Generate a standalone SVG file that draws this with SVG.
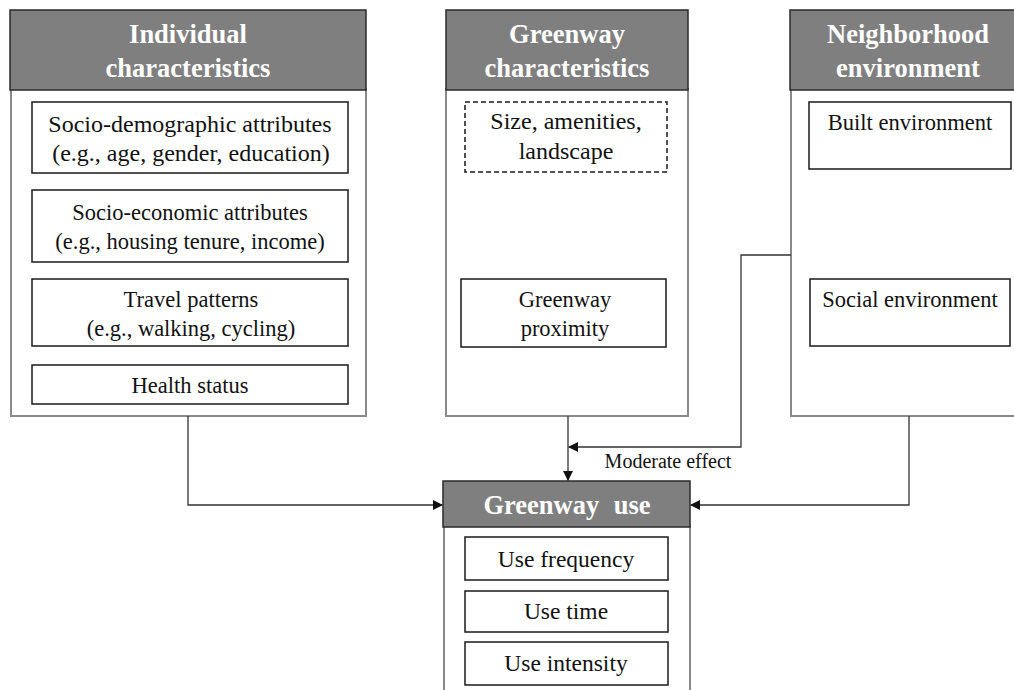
<svg xmlns="http://www.w3.org/2000/svg" width="1014" height="690" viewBox="0 0 1014 690">
<style>
.panel{fill:#fff;stroke:#8a8a8a;stroke-width:2}
.head{fill:#7f7f7f;stroke:#2a2a2a;stroke-width:1.5}
.ht{font-family:"Liberation Serif",serif;font-weight:bold;font-size:26.5px;fill:#fff;text-anchor:middle}
.box{fill:#fff;stroke:#1a1a1a;stroke-width:1.5}
.dash{fill:#fff;stroke:#1a1a1a;stroke-width:1.5;stroke-dasharray:5 3}
.t{font-family:"Liberation Serif",serif;font-size:22.5px;fill:#111;text-anchor:middle}
.tb{font-size:24px}
.ut{font-family:"Liberation Serif",serif;font-size:23.5px;fill:#111;text-anchor:middle}
.lbl{font-family:"Liberation Serif",serif;font-size:20px;fill:#111;text-anchor:middle}
.con{fill:none;stroke:#333;stroke-width:1.3}
</style>
<defs>
<marker id="arr" markerWidth="10" markerHeight="10" refX="9" refY="5" orient="auto" markerUnits="userSpaceOnUse">
<path d="M0,0 L10,5 L0,10 Z" fill="#111"/>
</marker>
</defs>

<g id="individual">
<rect class="panel" x="11" y="89" width="355" height="327"/>
<rect class="head" x="10" y="10" width="356" height="80"/>
<text class="ht" x="188" y="43">Individual</text>
<text class="ht" x="188" y="77">characteristics</text>
<rect class="box" x="32" y="102" width="316" height="71"/>
<text class="t tb" x="190" y="132">Socio-demographic attributes</text>
<text class="t tb" x="191" y="161">(e.g., age, gender, education)</text>
<rect class="box" x="32" y="190" width="316" height="72"/>
<text class="t" x="190" y="220">Socio-economic attributes</text>
<text class="t" x="190" y="249">(e.g., housing tenure, income)</text>
<rect class="box" x="32" y="279" width="316" height="67"/>
<text class="t" x="191" y="307">Travel patterns</text>
<text class="t" x="191" y="336">(e.g., walking, cycling)</text>
<rect class="box" x="32" y="365" width="316" height="39"/>
<text class="t" x="190" y="393">Health status</text>
</g>

<g id="greenway">
<rect class="panel" x="446" y="89" width="242" height="327"/>
<rect class="head" x="446" y="10" width="242" height="80"/>
<text class="ht" x="567" y="43">Greenway</text>
<text class="ht" x="567" y="77">characteristics</text>
<rect class="dash" x="465" y="102" width="202" height="70"/>
<text class="t tb" x="566" y="129">Size, amenities,</text>
<text class="t tb" x="566" y="159">landscape</text>
<rect class="box" x="461" y="279" width="205" height="68"/>
<text class="t" x="565" y="307">Greenway</text>
<text class="t" x="565" y="336">proximity</text>
</g>

<g id="neighborhood">
<rect class="panel" x="791" y="89" width="240" height="327"/>
<rect class="head" x="790" y="10" width="240" height="80"/>
<text class="ht" x="908" y="43">Neighborhood</text>
<text class="ht" x="908" y="77">environment</text>
<rect class="box" x="809" y="102" width="202" height="67"/>
<text class="t" x="910" y="130">Built environment</text>
<rect class="box" x="810" y="279" width="200" height="67"/>
<text class="t" x="910" y="307">Social environment</text>
</g>

<g id="greenway-use">
<rect class="panel" x="444" y="526" width="246" height="180"/>
<rect class="head" x="443" y="481" width="247" height="46"/>
<text class="ht" x="567" y="514" style="word-spacing:8px">Greenway use</text>
<rect class="box" x="465" y="537" width="203" height="43"/>
<text class="ut" x="566" y="567">Use frequency</text>
<rect class="box" x="465" y="591" width="203" height="41"/>
<text class="ut" x="566" y="619">Use time</text>
<rect class="box" x="465" y="642" width="203" height="43"/>
<text class="ut" x="566" y="671">Use intensity</text>
</g>

<g id="connectors">
<polyline class="con" points="188,416 188,505 442,505" marker-end="url(#arr)"/>
<polyline class="con" points="568,416 568,480" marker-end="url(#arr)"/>
<polyline class="con" points="791,255 741,255 741,447 569,447" marker-end="url(#arr)"/>
<polyline class="con" points="909,416 909,505 691,505" marker-end="url(#arr)"/>
<text class="lbl" x="668" y="468">Moderate effect</text>
</g>
</svg>
